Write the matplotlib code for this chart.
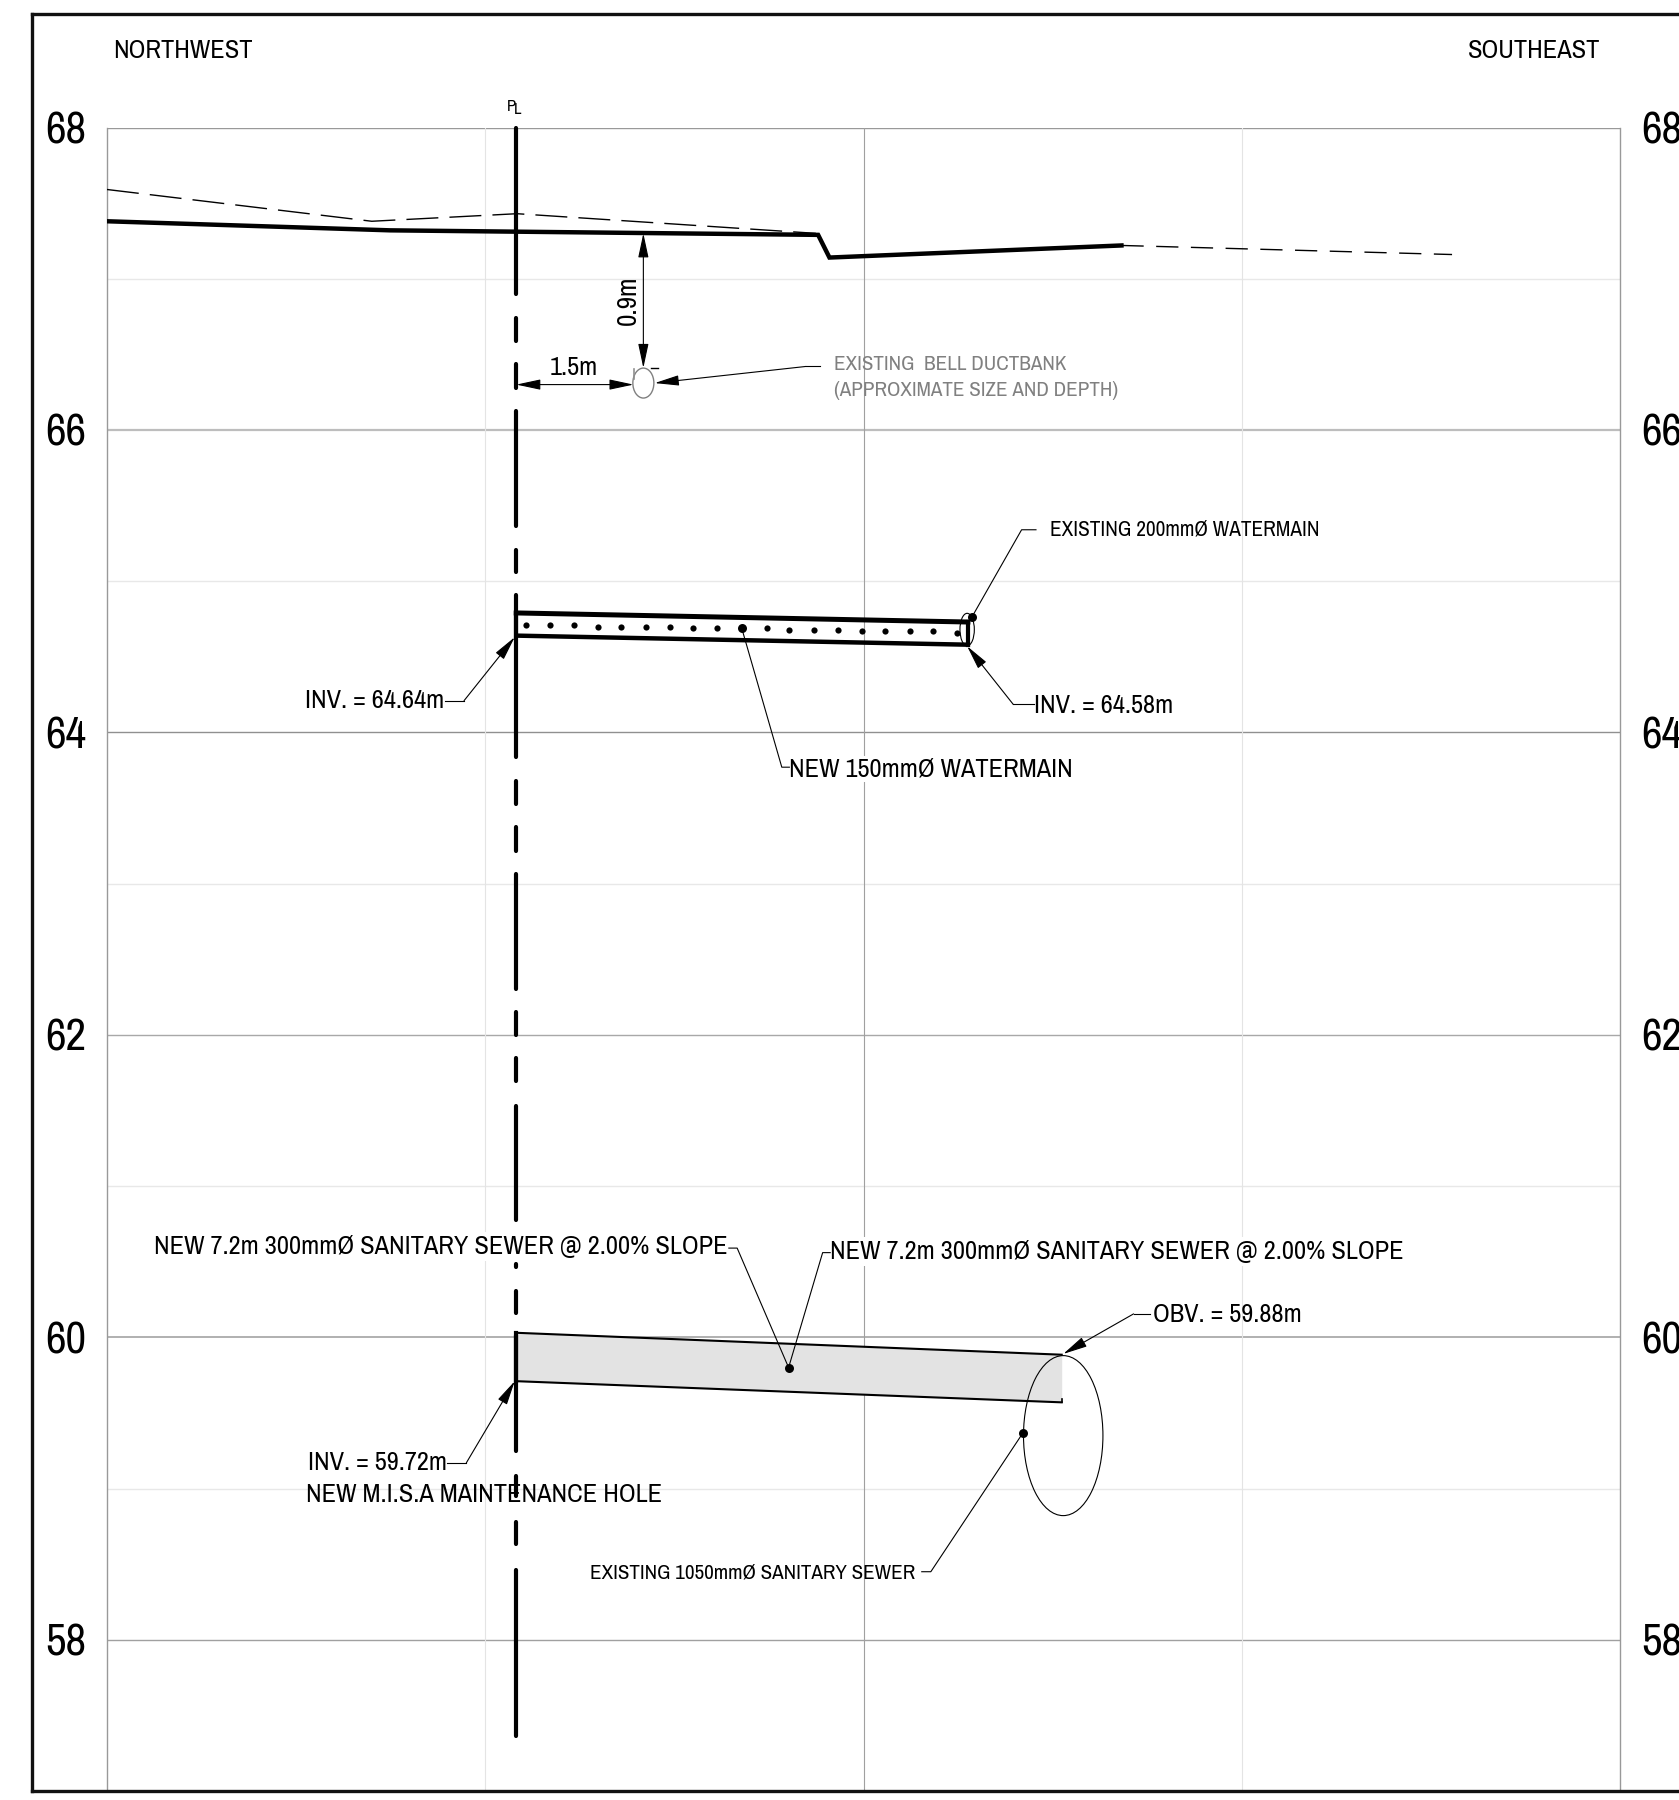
import matplotlib
matplotlib.use("Agg")
import matplotlib.pyplot as plt
from matplotlib.lines import Line2D
from matplotlib.patches import Ellipse

plt.rcParams['font.family'] = ['Archivo Narrow', 'Liberation Sans', 'DejaVu Sans']
plt.rcParams['lines.scale_dashes'] = False

# elevation ticks and grid
major_y = [58, 60, 62, 64, 66, 68]
minor_y = [59, 61, 63, 65, 67]
major_colors = ['#a0a0a0', '#b0b0b0', '#a8a8a8', '#909090', '#bdbdbd', '#999999']
major_widths = [1.0, 1.4, 1.0, 1.0, 1.6, 1.0]
grid_x = [5, 10, 15]
grid_x_colors = ['#e4e4e4', '#a0a0a0', '#e4e4e4']

# ground surface, x in m, elevation in m
ground_x = [0, 3.74, 9.40, 9.55, 13.41]
ground_y = [67.38, 67.32, 67.29, 67.14, 67.22]
old_ground_x = [0, 3.50, 5.42, 9.37]
old_ground_y = [67.59, 67.38, 67.43, 67.30]
old_ground2_x = [13.41, 17.78]
old_ground2_y = [67.22, 67.16]

# property line
pl_x = 5.41
pl_segments = [(68.01, 66.886), (66.753, 66.575), (66.449, 66.264), (66.138, 65.351),
               (65.219, 65.047), (64.921, 63.823), (63.691, 63.513), (63.387, 63.201),
               (63.076, 62.289), (62.164, 61.985), (61.859, 61.681), (61.542, 60.761),
               (60.497, 60.451), (60.319, 60.147), (60.028, 59.234), (59.095, 58.936),
               (58.79, 58.618), (58.473, 57.349)]

# new watermain
wm_x = [5.41, 11.38]
wm_top = [64.79, 64.73]
wm_bot = [64.64, 64.58]
wm_dots_x = [5.54, 5.85, 6.17, 6.49, 6.80, 7.12, 7.44, 7.75, 8.07, 8.72, 9.02,
             9.34, 9.66, 9.98, 10.29, 10.61, 10.92, 11.24]
wm_dots_y = [64.71, 64.71, 64.71, 64.70, 64.70, 64.70, 64.70, 64.69, 64.69, 64.69, 64.68,
             64.68, 64.68, 64.67, 64.67, 64.67, 64.67, 64.66]

# new sewer
sewer_x = [5.41, 12.62]
sewer_top = [60.03, 59.885]
sewer_bot = [59.71, 59.57]

# existing utilities: centre x, centre y, width, height
duct = (7.09, 66.31, 0.278, 0.198)
watermain_200 = (11.37, 64.68, 0.19, 0.215)
sewer_1050 = (12.64, 59.35, 1.05, 1.058)

# leaders: (polyline x, polyline y)
leaders = [
    ([4.47, 4.72], [64.21, 64.21]),
    ([12.25, 11.98], [64.185, 64.185]),
    ([11.43, 12.09, 12.28], [64.76, 65.34, 65.34]),
    ([8.39, 8.92, 9.02], [64.69, 63.77, 63.77]),
    ([8.22, 8.33, 9.01], [60.59, 60.59, 59.80]),
    ([9.56, 9.46, 9.01], [60.56, 60.56, 59.80]),
    ([12.11, 10.89, 10.77], [59.37, 58.45, 58.45]),
    ([13.79, 13.57], [60.155, 60.155]),
    ([4.49, 4.75], [59.17, 59.17]),
    ([9.42, 9.24], [66.42, 66.42]),
]
# arrows: start, tip
arrows = [
    ((4.72, 64.21), (5.39, 64.63)),
    ((11.98, 64.185), (11.37, 64.57)),
    ((13.57, 60.155), (12.64, 59.89)),
    ((4.75, 59.17), (5.39, 59.71)),
    ((9.24, 66.42), (7.24, 66.31)),
]
# leader dots
dots_x = [8.39, 11.43, 9.01, 12.11]
dots_y = [64.69, 64.76, 59.80, 59.37]

# dimension lines
dim_09 = ((7.09, 67.30), (7.09, 66.41))
dim_15 = ((5.41, 66.30), (6.96, 66.30))


def arrow(ax, start, tip, style='-|>', color='black'):
    ax.annotate('', xy=tip, xytext=start, annotation_clip=False,
                arrowprops=dict(arrowstyle=f'{style},head_length=15,head_width=3.2', mutation_scale=1,
                                shrinkA=0, shrinkB=0, lw=0.8, color=color, fc='black', ec=color))


fig = plt.figure(figsize=(16.79, 18), dpi=100)
ax = fig.add_axes([107 / 1679, 9 / 1800, 1513 / 1679, 1663.5 / 1800])
ax.set_xlim(0, 20)
ax.set_ylim(57, 68)

for y in minor_y:
    ax.axhline(y, color='#e8e8e8', lw=1.0, zorder=1)
for y, c, w in zip(major_y, major_colors, major_widths):
    ax.axhline(y, color=c, lw=w, zorder=1)
for x, c in zip(grid_x, grid_x_colors):
    ax.axvline(x, color=c, lw=0.8, zorder=1)

ax.set_xticks([])
ax.set_yticks(major_y)
ax.tick_params(axis='y', length=0, pad=15, labelsize=32.5, labelleft=True, labelright=True)
for side in ['left', 'right']:
    ax.spines[side].set_color('#999999')
    ax.spines[side].set_linewidth(1.0)
for side in ['top', 'bottom']:
    ax.spines[side].set_visible(False)

# frame, runs off the right of the page
frame = dict(color='#111111', lw=2.4, transform=fig.transFigure, solid_capstyle='projecting')
fig.add_artist(Line2D([32 / 1679, 32 / 1679], [1 - 14 / 1800, 1 - 1791 / 1800], **frame))
fig.add_artist(Line2D([32 / 1679, 1], [1 - 14 / 1800, 1 - 14 / 1800], **frame))
fig.add_artist(Line2D([32 / 1679, 1], [1 - 1791 / 1800, 1 - 1791 / 1800], **frame))

# ground
ax.plot(old_ground_x, old_ground_y, color='black', lw=1.0, dashes=(23, 8), zorder=3)
ax.plot(old_ground2_x, old_ground2_y, color='black', lw=1.0, dashes=(16, 9), zorder=3)
ax.plot(ground_x, ground_y, color='black', lw=3.2, zorder=4, solid_joinstyle='miter')

# sewer
ax.fill_between(sewer_x, sewer_top, sewer_bot, color='#e3e3e3', lw=0, zorder=2)
ax.plot(sewer_x, sewer_top, color='black', lw=1.5, zorder=4)
ax.plot(sewer_x, sewer_bot, color='black', lw=1.5, zorder=4)
ax.plot([sewer_x[1], sewer_x[1]], [sewer_bot[1], sewer_bot[1] + 0.02], color='black', lw=1.2, zorder=4)
ax.plot([pl_x, pl_x], [sewer_bot[0], sewer_top[0]], color='black', lw=3.0, zorder=5)

# watermain
ax.plot(wm_x, wm_top, color='black', lw=3.6, zorder=4)
ax.plot(wm_x, wm_bot, color='black', lw=3.2, zorder=4)
ax.plot([wm_x[0], wm_x[0]], [wm_bot[0], wm_top[0]], color='black', lw=3.0, zorder=4)
ax.plot([wm_x[1], wm_x[1]], [wm_bot[1], wm_top[1]], color='black', lw=3.0, zorder=4)
ax.scatter(wm_dots_x, wm_dots_y, s=20, color='black', lw=0, zorder=5)

# property line, round caps eat into the gaps so pull each end in
cap = 0.013
for top, bot in pl_segments:
    ax.plot([pl_x, pl_x], [top - cap, bot + cap], color='black', lw=3.0, clip_on=False,
            solid_capstyle='round', zorder=5)

# existing pipes
for (cx, cy, w, h), c, lw in zip([duct, watermain_200, sewer_1050], ['#808080', 'black', 'black'], [1.0, 0.8, 0.8]):
    ax.add_patch(Ellipse((cx, cy), w, h, fc='none', ec=c, lw=lw, zorder=5))
ax.plot([6.96, 6.96], [66.40, 66.34], color='#909090', lw=1.2, zorder=5)
ax.plot([7.19, 7.29], [66.41, 66.41], color='black', lw=1.0, zorder=5)

# leaders and arrows
for lx, ly in leaders:
    ax.plot(lx, ly, color='black', lw=0.8, zorder=6)
ax.scatter(dots_x, dots_y, s=42, color='black', lw=0, zorder=7)
for start, tip in arrows:
    arrow(ax, start, tip)
arrow(ax, dim_09[0], dim_09[1], style='<|-|>')
arrow(ax, dim_15[0], dim_15[1], style='<|-|>')

# labels
ax.text(0.086, 68.51, 'NORTHWEST', fontsize=19, ha='left', va='center')
ax.text(19.74, 68.51, 'SOUTHEAST', fontsize=19, ha='right', va='center')
ax.text(5.35, 68.14, 'P', fontsize=12, ha='center', va='center')
ax.text(5.43, 68.12, 'L', fontsize=12, ha='center', va='center')
ax.text(6.89, 66.86, '0.9m', fontsize=19.5, rotation=90, ha='center', va='center')
ax.text(6.17, 66.41, '1.5m', fontsize=19, ha='center', va='center')
ax.text(9.61, 66.43, 'EXISTING  BELL DUCTBANK', fontsize=15.2, color='#808080', ha='left', va='center')
ax.text(9.61, 66.26, '(APPROXIMATE SIZE AND DEPTH)', fontsize=15.2, color='#808080', ha='left', va='center')
ax.text(12.46, 65.34, 'EXISTING 200mmØ WATERMAIN', fontsize=15.3, ha='left', va='center')
ax.text(4.46, 64.21, 'INV. = 64.64m', fontsize=19, ha='right', va='center')
ax.text(12.25, 64.18, 'INV. = 64.58m', fontsize=19, ha='left', va='center')
ax.text(9.02, 63.76, 'NEW 150mmØ WATERMAIN', fontsize=19, ha='left', va='center',
        bbox=dict(fc='white', ec='none', pad=1), zorder=3)
mask = dict(fc='white', ec='none', pad=2)
ax.text(8.20, 60.60, 'NEW 7.2m 300mmØ SANITARY SEWER @ 2.00% SLOPE', fontsize=19, ha='right', va='center',
        bbox=mask, zorder=3)
ax.text(9.56, 60.57, 'NEW 7.2m 300mmØ SANITARY SEWER @ 2.00% SLOPE', fontsize=19, ha='left', va='center',
        bbox=mask, zorder=3)
ax.text(13.83, 60.15, 'OBV. = 59.88m', fontsize=19, ha='left', va='center')
ax.text(4.49, 59.17, 'INV. = 59.72m', fontsize=19, ha='right', va='center')
ax.text(2.63, 58.96, 'NEW M.I.S.A MAINTENANCE HOLE', fontsize=19, ha='left', va='center', zorder=8)
ax.text(10.69, 58.44, 'EXISTING 1050mmØ SANITARY SEWER', fontsize=15.2, ha='right', va='center', zorder=8)

fig.savefig('out.png', dpi=100)
